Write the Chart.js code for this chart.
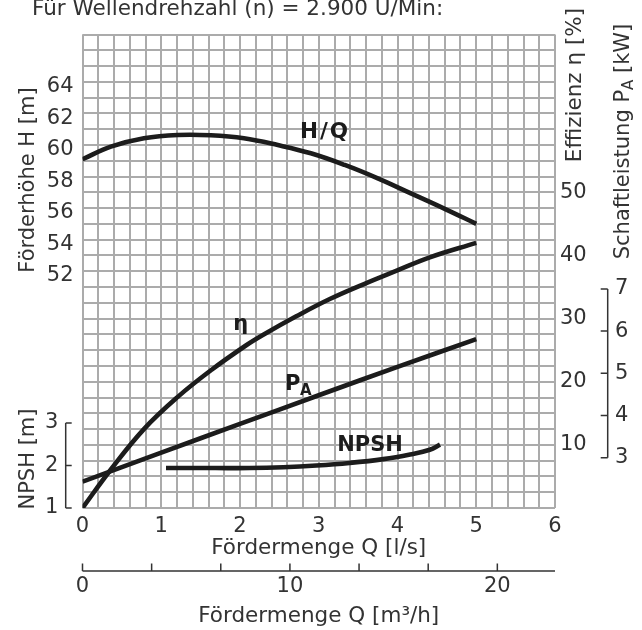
<!DOCTYPE html>
<html><head><meta charset="utf-8">
<script src="https://cdn.jsdelivr.net/npm/chart.js@4.4.1/dist/chart.umd.min.js"></script>
<style>html,body{margin:0;padding:0;background:#fff}canvas{display:block}</style>
</head><body>
<canvas id="c" width="642" height="630"></canvas>
<script>
// ---- data ----
const qHead = [0, 0.36, 0.78, 1.21, 1.63, 2.05, 2.48, 2.90, 3.33, 3.75, 4.17, 4.60, 5.0];
const head  = [59.39, 60.19, 60.72, 60.93, 60.91, 60.72, 60.29, 59.77, 59.03, 58.18, 57.23, 56.25, 55.30];

const qEta = [0, 0.36, 0.78, 1.21, 1.64, 2.07, 2.29, 2.72, 3.14, 3.56, 3.99, 4.41, 5.0];
const eta  = [0, 6.1, 12.5, 17.6, 21.9, 25.7, 27.4, 30.4, 33.1, 35.4, 37.6, 39.7, 42.0];

const qPower = [0, 1, 2, 3, 4, 5];
const power  = [2.43, 3.12, 3.80, 4.48, 5.15, 5.81];

const qNpsh = [1.06, 1.69, 2.12, 2.55, 2.97, 3.39, 3.82, 4.16, 4.41, 4.54];
const npsh  = [1.94, 1.94, 1.94, 1.96, 2.00, 2.06, 2.15, 2.26, 2.37, 2.49];

// ---- tick labels ----
const qLabelsLs  = [0, 1, 2, 3, 4, 5, 6];
const qLabelsM3h = [0, 10, 20];
const headTicks  = [52, 54, 56, 58, 60, 62, 64];
const etaTicks   = [10, 20, 30, 40, 50];
const powerTicks = [3, 4, 5, 6, 7];
const npshTicks  = [1, 2, 3];

// ---- styling ----
const FONT = "'DejaVu Sans', Verdana, sans-serif";
const TXT = '#333333';
const GRID = '#ababab';
const CURVE = '#1c1c1c';
Chart.defaults.font.family = FONT;
Chart.defaults.font.size = 21;
Chart.defaults.color = TXT;

const qGrid = Array.from({length: 31}, (_, i) => Math.round(i * 2) / 10);
const etaGrid = Array.from({length: 31}, (_, i) => i * 2.5);
const m3hMinor = Array.from({length: 7}, (_, i) => i * 10 / 3);

const pts = (xs, ys) => xs.map((x, i) => ({x, y: ys[i]}));
const near = (a, b) => Math.abs(a - b) < 1e-6;

function rotText(ctx, parts, cx, cy) {
  ctx.save();
  ctx.translate(cx, cy);
  ctx.rotate(-Math.PI / 2);
  let total = 0;
  parts.forEach(p => { ctx.font = p.font; p.w = ctx.measureText(p.t).width; total += p.w; });
  let xx = -total / 2;
  ctx.textAlign = 'left';
  ctx.textBaseline = 'alphabetic';
  parts.forEach(p => { ctx.font = p.font; ctx.fillText(p.t, xx, p.dy || 0); xx += p.w; });
  ctx.restore();
}

const decor = {
  id: 'decor',
  afterDraw(chart) {
    const {ctx, scales} = chart;
    const {x, x2, yN, yP} = scales;
    ctx.save();
    ctx.fillStyle = TXT;
    ctx.strokeStyle = TXT;
    // header
    ctx.font = `21.5px ${FONT}`;
    ctx.textAlign = 'left';
    ctx.textBaseline = 'alphabetic';
    ctx.fillText('Für Wellendrehzahl (n) = 2.900 U/Min:', 32, 15);
    // axis titles
    const f = `21px ${FONT}`;
    rotText(ctx, [{t: 'Förderhöhe H [m]', font: f}], 34, 180);
    rotText(ctx, [{t: 'NPSH [m]', font: f}], 34, 459);
    rotText(ctx, [{t: 'Effizienz η [%]', font: `21.5px ${FONT}`}], 581, 85);
    rotText(ctx, [{t: 'Schaftleistung P', font: f}, {t: 'A', font: `15px ${FONT}`, dy: 4}, {t: ' [kW]', font: f}], 629, 141.5);

    ctx.lineWidth = 1.5;
    // NPSH bracket axis
    const bx = 65.7;
    ctx.beginPath();
    ctx.moveTo(bx, yN.getPixelForValue(npshTicks[npshTicks.length - 1]));
    ctx.lineTo(bx, yN.getPixelForValue(npshTicks[0]));
    npshTicks.forEach(v => { const py = yN.getPixelForValue(v); ctx.moveTo(bx, py); ctx.lineTo(bx + 6, py); });
    ctx.stroke();
    ctx.font = f;
    ctx.textAlign = 'center';
    ctx.textBaseline = 'middle';
    npshTicks.forEach(v => ctx.fillText(String(v), 51.7, yN.getPixelForValue(v)));

    // P_A bracket axis
    const pxl = yP.left + 5.7;
    ctx.beginPath();
    ctx.moveTo(pxl, yP.getPixelForValue(powerTicks[powerTicks.length - 1]));
    ctx.lineTo(pxl, yP.getPixelForValue(powerTicks[0]));
    powerTicks.forEach(v => { const py = yP.getPixelForValue(v); ctx.moveTo(pxl, py); ctx.lineTo(pxl - 7, py); });
    ctx.stroke();

    // m3/h axis line with upward ticks
    const ly = x2.top;
    ctx.beginPath();
    ctx.moveTo(x.left, ly);
    ctx.lineTo(x.right, ly);
    m3hMinor.forEach(v => { const px = x2.getPixelForValue(v); ctx.moveTo(px, ly); ctx.lineTo(px, ly - 7.5); });
    ctx.stroke();

    // curve labels
    ctx.fillStyle = '#1c1c1c';
    ctx.textBaseline = 'alphabetic';
    ctx.textAlign = 'center';
    ctx.font = `bold 21.5px ${FONT}`;
    if ('letterSpacing' in ctx) ctx.letterSpacing = '2px';
    ctx.fillText('H/Q', 325, 137.5);
    if ('letterSpacing' in ctx) ctx.letterSpacing = '0px';
    ctx.font = `bold 21px ${FONT}`;
    ctx.fillText('η', 240.7, 329.5);
    ctx.fillText('NPSH', 370, 451.2);
    ctx.textAlign = 'left';
    ctx.fillText('P', 285, 390);
    ctx.font = `bold 15px ${FONT}`;
    ctx.fillText('A', 300, 394.7);
    ctx.restore();
  }
};

const lineDs = (data, yAxisID) => ({
  data, yAxisID, xAxisID: 'x',
  borderColor: CURVE, borderWidth: 4.6, pointRadius: 0, fill: false,
  tension: 0.4, borderCapStyle: 'butt'
});

new Chart(document.getElementById('c'), {
  type: 'line',
  data: {
    datasets: [
      lineDs(pts(qHead, head), 'yH'),
      lineDs(pts(qEta, eta), 'yEta'),
      lineDs(pts(qPower, power), 'yP'),
      lineDs(pts(qNpsh, npsh), 'yN')
    ]
  },
  options: {
    responsive: false,
    animation: false,
    devicePixelRatio: 1,
    layout: {padding: {top: 34.5, left: 0, right: 0, bottom: 0}},
    plugins: {legend: {display: false}, tooltip: {enabled: false}},
    scales: {
      x: {
        type: 'linear', position: 'bottom', weight: 0, min: 0, max: 6,
        afterBuildTicks: s => { s.ticks = qGrid.map(v => ({value: v})); },
        ticks: {
          autoSkip: false, maxRotation: 0, padding: 6,
          callback: v => { const m = qLabelsLs.find(l => near(l, v)); return m === undefined ? '' : String(m); }
        },
        grid: {color: GRID, lineWidth: 2, drawTicks: false},
        border: {display: false},
        title: {display: true, text: 'Fördermenge Q [l/s]', font: {size: 21.5}, padding: {top: 0, bottom: 10}},
        afterFit: s => { s.height = 63; }
      },
      x2: {
        type: 'linear', position: 'bottom', weight: 1, min: 0, max: 22.78,
        afterBuildTicks: s => { s.ticks = m3hMinor.map(v => ({value: v})); },
        ticks: {
          autoSkip: false, maxRotation: 0, padding: 3,
          callback: v => { const m = qLabelsM3h.find(l => near(l, v)); return m === undefined ? '' : String(m); }
        },
        grid: {display: false, drawTicks: false},
        border: {display: false},
        title: {display: true, text: 'Fördermenge Q [m³/h]', font: {size: 21.5}, padding: {top: 0, bottom: 1}},
        afterFit: s => { s.height = 59; }
      },
      yH: {
        type: 'linear', position: 'left', weight: 0, min: 37.295, max: 67.295,
        afterBuildTicks: s => { s.ticks = headTicks.map(v => ({value: v})); },
        ticks: {padding: 9},
        grid: {display: false, drawTicks: false},
        border: {display: false},
        afterFit: s => { s.width = 82.5; }
      },
      yN: {
        type: 'linear', position: 'left', weight: 1, min: 1, max: 12.14, display: false
      },
      yEta: {
        type: 'linear', position: 'right', weight: 0, min: 0, max: 75,
        afterBuildTicks: s => { s.ticks = etaGrid.map(v => ({value: v})); },
        ticks: {
          autoSkip: false, padding: 5,
          callback: v => { const m = etaTicks.find(l => near(l, v)); return m === undefined ? '' : String(m); }
        },
        grid: {color: GRID, lineWidth: 2, drawTicks: false},
        border: {display: false},
        afterFit: s => { s.width = 47; }
      },
      yP: {
        type: 'linear', position: 'right', weight: 1, min: 1.807, max: 13.03,
        afterBuildTicks: s => { s.ticks = powerTicks.map(v => ({value: v})); },
        ticks: {padding: 13},
        grid: {display: false, drawTicks: false},
        border: {display: false},
        afterFit: s => { s.width = 40; }
      }
    }
  },
  plugins: [decor]
});
</script>
</body></html>
